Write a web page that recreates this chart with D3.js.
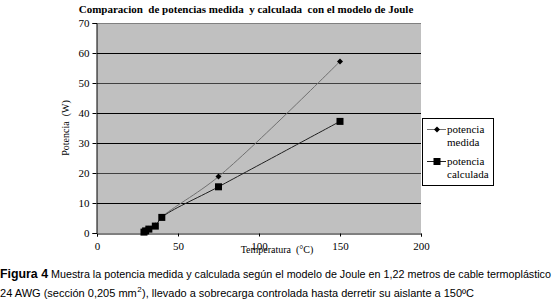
<!DOCTYPE html>
<html>
<head>
<meta charset="utf-8">
<script src="https://cdn.jsdelivr.net/npm/d3@7"></script>
<style>
  body { margin: 0; background: #fff; }
  svg { display: block; }
</style>
</head>
<body>
<svg width="553" height="302"></svg>
<script>
// temperatura (C) y potencia (W)
const temps = [29, 30, 32, 36, 40, 75, 150];
const medida = [0.3, 0.8, 1.4, 2.5, 5.3, 18.8, 57.2];
const calculada = [0.3, 0.7, 1.3, 2.3, 5.2, 15.4, 37.2];
const xTicks = [0, 50, 100, 150, 200];
const yTicks = [0, 10, 20, 30, 40, 50, 60, 70];

var svg = d3.select("svg"),
    pLeft = 97, pRight = 421, pTop = 23, pBottom = 233;

var x = d3.scaleLinear().domain([0, 200]).range([pLeft, pRight]);
var y = d3.scaleLinear().domain([0, 70]).range([pBottom, pTop]);

// title
svg.append("text")
    .attr("x", 246).attr("y", 13)
    .attr("text-anchor", "middle")
    .style("font", "bold 11px 'Liberation Serif', serif")
    .attr("xml:space", "preserve")
    .text("Comparacion  de potencias medida  y calculada  con el modelo de Joule");

// plot background
svg.append("rect")
    .attr("x", pLeft).attr("y", pTop)
    .attr("width", pRight - pLeft).attr("height", pBottom - pTop)
    .attr("fill", "#c0c0c0");

svg.append("line")
    .attr("x1", pLeft).attr("x2", pRight)
    .attr("y1", pTop + 0.5).attr("y2", pTop + 0.5)
    .attr("stroke", "#808080");

// grid
svg.append("g").selectAll("line")
    .data(yTicks.filter(d => d > 0 && d < 70))
    .join("line")
    .attr("x1", pLeft).attr("x2", pRight)
    .attr("y1", d => Math.round(y(d)) + 0.5).attr("y2", d => Math.round(y(d)) + 0.5)
    .attr("stroke", d => (d == 50 || d == 20) ? "#404040" : "#000")
    .attr("stroke-width", 1);

// axes
var xAxis = svg.append("g")
    .attr("transform", "translate(0," + (pBottom + 0.5) + ")")
    .call(d3.axisBottom(x).tickValues(xTicks).tickSize(3).tickPadding(6));
var yAxis = svg.append("g")
    .attr("transform", "translate(" + (pLeft - 0.5) + ",0)")
    .call(d3.axisLeft(y).tickValues(yTicks).tickSize(4).tickPadding(3));

[xAxis, yAxis].forEach(function(a) {
    a.select(".domain").attr("stroke", "#000");
    a.selectAll(".tick line").attr("stroke", "#000");
    a.selectAll("text")
        .style("font", "11px 'Liberation Serif', serif")
        .attr("fill", "#000");
});

// axis labels
svg.append("text")
    .attr("x", 277).attr("y", 253)
    .attr("text-anchor", "middle")
    .style("font", "10px 'Liberation Serif', serif")
    .attr("xml:space", "preserve")
    .text("Temperatura  (\u00b0C)");

svg.append("text")
    .attr("transform", "translate(69,128) rotate(-90)")
    .attr("text-anchor", "middle")
    .style("font", "10px 'Liberation Serif', serif")
    .attr("xml:space", "preserve")
    .text("Potencia  (W)");

// lines
var line = d3.line()
    .x(d => x(d[0]))
    .y(d => y(d[1]))
    .curve(d3.curveCatmullRom);

var medPts = temps.map((t, i) => [t, medida[i]]);
var calPts = temps.map((t, i) => [t, calculada[i]]);

svg.append("path")
    .datum(medPts)
    .attr("d", line)
    .attr("fill", "none")
    .attr("stroke", "#707070")
    .attr("stroke-width", 1);

svg.append("path")
    .datum(calPts)
    .attr("d", line)
    .attr("fill", "none")
    .attr("stroke", "#202020")
    .attr("stroke-width", 1);

function diamond(g, cx, cy) {
    g.append("path")
        .attr("d", "M" + cx + "," + (cy - 3) + "L" + (cx + 3) + "," + cy + "L" + cx + "," + (cy + 3) + "L" + (cx - 3) + "," + cy + "Z")
        .attr("fill", "#000");
}

function square(g, cx, cy) {
    g.append("rect")
        .attr("x", cx - 3.5).attr("y", cy - 3.5)
        .attr("width", 7).attr("height", 7)
        .attr("fill", "#000");
}

var marks = svg.append("g");
medPts.forEach(d => diamond(marks, x(d[0]), y(d[1])));
calPts.forEach(d => square(marks, x(d[0]), y(d[1])));

// legend
var lg = svg.append("g");
lg.append("rect")
    .attr("x", 422.5).attr("y", 118.5)
    .attr("width", 71).attr("height", 67)
    .attr("fill", "#fff").attr("stroke", "#000");

var lgItems = [
    { l1: "potencia", l2: "medida", y: 129, color: "#707070", mk: diamond },
    { l1: "potencia", l2: "calculada", y: 161, color: "#202020", mk: square }
];
lgItems.forEach(function(it) {
    lg.append("line")
        .attr("x1", 427).attr("x2", 446)
        .attr("y1", it.y + 0.5).attr("y2", it.y + 0.5)
        .attr("stroke", it.color);
    it.mk(lg, 437, it.y + 0.5);
    lg.append("text")
        .attr("x", 447).attr("y", it.y + 4)
        .style("font", "11px 'Liberation Serif', serif")
        .text(it.l1);
    lg.append("text")
        .attr("x", 447).attr("y", it.y + 17)
        .style("font", "11px 'Liberation Serif', serif")
        .text(it.l2);
});

// caption
var capFont = "11.5px 'Liberation Sans', Arial, sans-serif";
function capText(xp, yp, w, txt, font) {
    var t = svg.append("text")
        .attr("x", xp).attr("y", yp)
        .style("font", font || capFont)
        .attr("fill", "#000")
        .text(txt);
    if (w) t.attr("textLength", w).attr("lengthAdjust", "spacingAndGlyphs");
    return t;
}
capText(0, 278, 48, "Figura 4", "bold 12.5px 'Liberation Sans', Arial, sans-serif");
capText(51, 278, 500, "Muestra la potencia medida y calculada seg\u00fan el modelo de Joule en 1,22 metros de cable termopl\u00e1stico");

// second line: squeeze the three parts to end at x=474
var pa = capText(0, 297, 0, "24 AWG (secci\u00f3n 0,205 mm"),
    pb = capText(0, 292, 0, "2", "8px 'Liberation Sans', Arial, sans-serif"),
    pc = capText(0, 297, 0, "), llevado a sobrecarga controlada hasta derretir su aislante a 150\u00baC");
var wa = pa.node().getComputedTextLength(),
    wb = pb.node().getComputedTextLength(),
    wc = pc.node().getComputedTextLength();
var k = 474 / (wa + wb + wc);
pa.attr("textLength", wa * k).attr("lengthAdjust", "spacingAndGlyphs");
pb.attr("x", wa * k + 0.5);
pc.attr("x", (wa + wb) * k + 1).attr("textLength", wc * k - 1).attr("lengthAdjust", "spacingAndGlyphs");
</script>
</body>
</html>
